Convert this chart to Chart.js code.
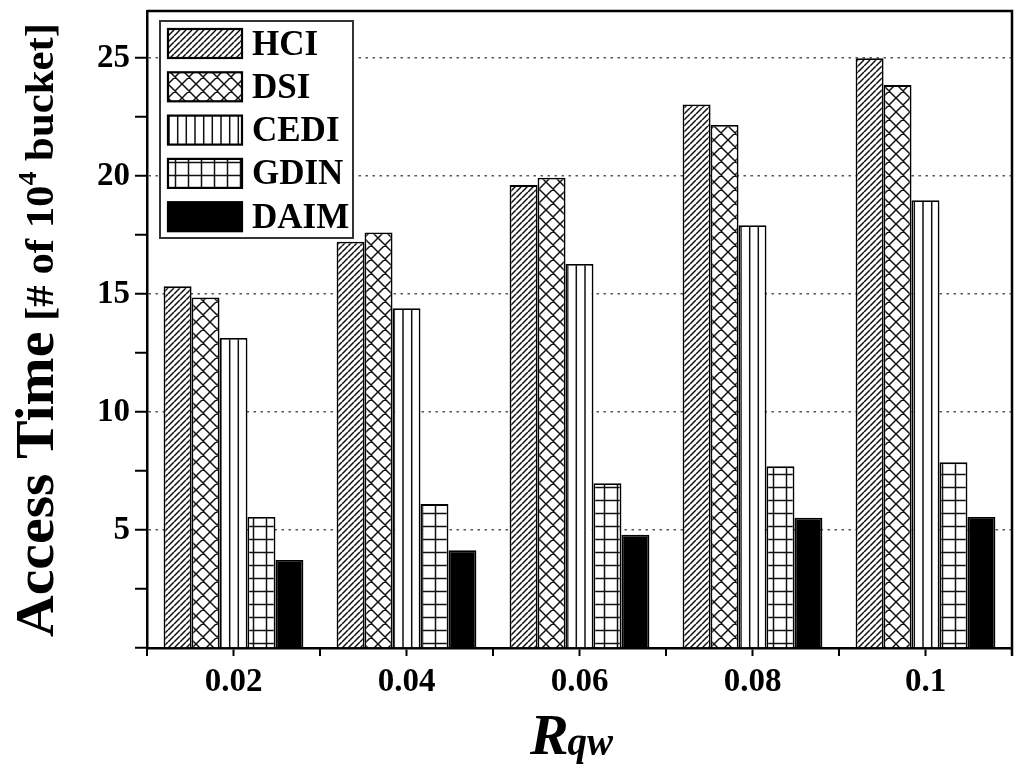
<!DOCTYPE html>
<html><head><meta charset="utf-8">
<script src="https://cdn.jsdelivr.net/npm/chart.js@4.4.1/dist/chart.umd.min.js"></script>
<style>html,body{margin:0;padding:0;background:#fff;}#wrap{width:1024px;height:770px;position:relative;}</style>
</head><body><div id="wrap"><canvas id="c" width="1024" height="770"></canvas></div>
<script>
const categories = ['0.02', '0.04', '0.06', '0.08', '0.1'];
const seriesNames = ['HCI', 'DSI', 'CEDI', 'GDIN', 'DAIM'];
const hciValues  = [15.33, 17.22, 19.62, 23.04, 25.00];
const dsiValues  = [14.86, 17.61, 19.93, 22.17, 23.86];
const cediValues = [13.14, 14.40, 16.28, 17.92, 18.98];
const gdinValues = [5.55, 6.10, 6.98, 7.70, 7.87];
const daimValues = [3.73, 4.14, 4.80, 5.52, 5.55];
const yTickLabels = [5, 10, 15, 20, 25];
const yTitleMain = 'Access Time';
const yTitleUnitA = ' [# of 10';
const yTitleSup = '4';
const yTitleUnitB = ' bucket]';
const xTitleMain = 'R';
const xTitleSub = 'qw';

const SERIF = '"Liberation Serif", "Times New Roman", serif';
const cv = document.getElementById('c');
const ctx = cv.getContext('2d');

function makePattern(kind) {
  const sizes = {hatch: 6, cross: 14, vert: 26, grid: 13};
  const s = sizes[kind];
  const c = document.createElement('canvas');
  c.width = s; c.height = s;
  const g = c.getContext('2d');
  g.fillStyle = '#fff'; g.fillRect(0, 0, s, s);
  g.strokeStyle = '#111'; g.lineWidth = 1.5;
  g.beginPath();
  if (kind === 'hatch') {
    for (const o of [-s, 0, s]) { g.moveTo(o, s); g.lineTo(o + s, 0); }
  } else if (kind === 'cross') {
    for (const o of [-s, 0, s]) {
      g.moveTo(o, 0); g.lineTo(o + s, s);
      g.moveTo(o, s); g.lineTo(o + s, 0);
    }
  } else if (kind === 'vert') {
    for (const x of [4.3, 13, 21.7]) { g.moveTo(x, 0); g.lineTo(x, s); }
  } else if (kind === 'grid') {
    g.moveTo(s / 2, 0); g.lineTo(s / 2, s);
    g.moveTo(0, s / 2); g.lineTo(s, s / 2);
  }
  g.stroke();
  return ctx.createPattern(c, 'repeat');
}

const fills = [makePattern('hatch'), makePattern('cross'), makePattern('vert'), makePattern('grid'), '#000'];
const seriesValues = [hciValues, dsiValues, cediValues, gdinValues, daimValues];

const datasets = seriesNames.map((name, i) => ({
  label: name,
  data: seriesValues[i],
  backgroundColor: fills[i],
  borderColor: '#000',
  borderWidth: 1.8,
  borderSkipped: 'start',
  categoryPercentage: 0.808,
  barPercentage: 1.0
}));

const framePlugin = {
  id: 'frame',
  afterDraw(chart) {
    const c = chart.ctx, a = chart.chartArea;
    c.save();
    c.strokeStyle = '#000'; c.lineWidth = 2.5;
    c.beginPath();
    c.moveTo(a.left, a.top); c.lineTo(a.right, a.top); c.lineTo(a.right, a.bottom + 8);
    c.stroke();
    const xs = chart.scales.x;
    c.lineWidth = 2;
    c.beginPath();
    for (let i = 0; i <= categories.length; i++) {
      const px = xs.getPixelForValue(i - 0.5);
      c.moveTo(px, a.bottom); c.lineTo(px, a.bottom + 8);
    }
    c.stroke();
    c.restore();
  }
};

const legendPlugin = {
  id: 'innerLegend',
  afterDraw(chart) {
    const c = chart.ctx, a = chart.chartArea;
    const bx = a.left + 13, by = a.top + 10, bw = 193, bh = 217;
    c.save();
    c.fillStyle = '#fff';
    c.fillRect(bx, by, bw, bh);
    c.strokeStyle = '#333'; c.lineWidth = 2;
    c.strokeRect(bx, by, bw, bh);
    chart.data.datasets.forEach((ds, i) => {
      const cy = by + 22.5 + i * 43.3;
      const sx = bx + 8, sw = 74, sh = 29;
      c.fillStyle = ds.backgroundColor;
      c.fillRect(sx, cy - sh / 2, sw, sh);
      c.strokeStyle = '#000'; c.lineWidth = 2.2;
      c.strokeRect(sx, cy - sh / 2, sw, sh);
      c.fillStyle = '#000';
      c.font = 'bold 35px ' + SERIF;
      c.textBaseline = 'middle';
      c.textAlign = 'left';
      c.fillText(ds.label, bx + 92, cy + 2);
    });
    c.restore();
  }
};

const titlesPlugin = {
  id: 'titles',
  afterDraw(chart) {
    const c = chart.ctx;
    c.save();
    c.fillStyle = '#000';
    c.textBaseline = 'alphabetic';
    c.textAlign = 'left';
    const parts = [
      {t: yTitleMain, f: 'bold 54px ' + SERIF, dy: 0},
      {t: yTitleUnitA, f: 'bold 40px ' + SERIF, dy: 0},
      {t: yTitleSup, f: 'bold 26px ' + SERIF, dy: -17},
      {t: yTitleUnitB, f: 'bold 40px ' + SERIF, dy: 0}
    ];
    let W = 0;
    parts.forEach(p => { c.font = p.f; p.w = c.measureText(p.t).width; W += p.w; });
    const L = 614;
    const s = L / W;
    c.translate(53, 637);
    c.rotate(-Math.PI / 2);
    c.scale(s, 1);
    let x = 0;
    parts.forEach(p => { c.font = p.f; c.fillText(p.t, x, p.dy); x += p.w; });
    c.restore();

    c.save();
    c.fillStyle = '#000';
    c.textBaseline = 'alphabetic';
    c.textAlign = 'left';
    c.font = 'italic bold 58px ' + SERIF;
    const wR = c.measureText(xTitleMain).width;
    c.font = 'italic bold 39px ' + SERIF;
    const wS = c.measureText(xTitleSub).width;
    const x0 = 572 - (wR + wS) / 2;
    c.font = 'italic bold 58px ' + SERIF;
    c.fillText(xTitleMain, x0, 754);
    c.font = 'italic bold 39px ' + SERIF;
    c.fillText(xTitleSub, x0 + wR - 1, 755);
    c.restore();
  }
};

new Chart(cv, {
  type: 'bar',
  data: { labels: categories, datasets: datasets },
  options: {
    responsive: false,
    animation: false,
    layout: { padding: { left: 0, right: 12, top: 11, bottom: 0 } },
    plugins: { legend: { display: false }, tooltip: { enabled: false } },
    scales: {
      x: {
        type: 'category',
        offset: true,
        grid: { offset: false, drawOnChartArea: false, tickLength: 8, tickColor: '#000', tickWidth: 2 },
        border: { display: true, color: '#000', width: 2.5 },
        ticks: { color: '#000', font: { family: SERIF, size: 33, weight: 'bold' }, padding: 7, maxRotation: 0, autoSkip: false },
        afterFit(scale) { scale.height = 122; scale.paddingLeft = 0; scale.paddingRight = 0; }
      },
      y: {
        min: 0, max: 27,
        grid: {
          color: (ctx) => (ctx.tick && yTickLabels.includes(ctx.tick.value)) ? '#555' : 'rgba(0,0,0,0)',
          lineWidth: 1.5,
          tickLength: 12, tickColor: '#000', tickWidth: 2
        },
        border: { display: true, color: '#000', width: 2.5, dash: [2.5, 4.5] },
        ticks: {
          stepSize: 2.5, includeBounds: false, maxTicksLimit: 20, autoSkip: false,
          color: '#000', font: { family: SERIF, size: 33, weight: 'bold' }, padding: 5,
          callback: (v) => yTickLabels.includes(v) ? String(v) : ''
        },
        afterFit(scale) { scale.width = 147; scale.paddingTop = 0; scale.paddingBottom = 0; }
      }
    }
  },
  plugins: [framePlugin, legendPlugin, titlesPlugin]
});
</script>
</body></html>
